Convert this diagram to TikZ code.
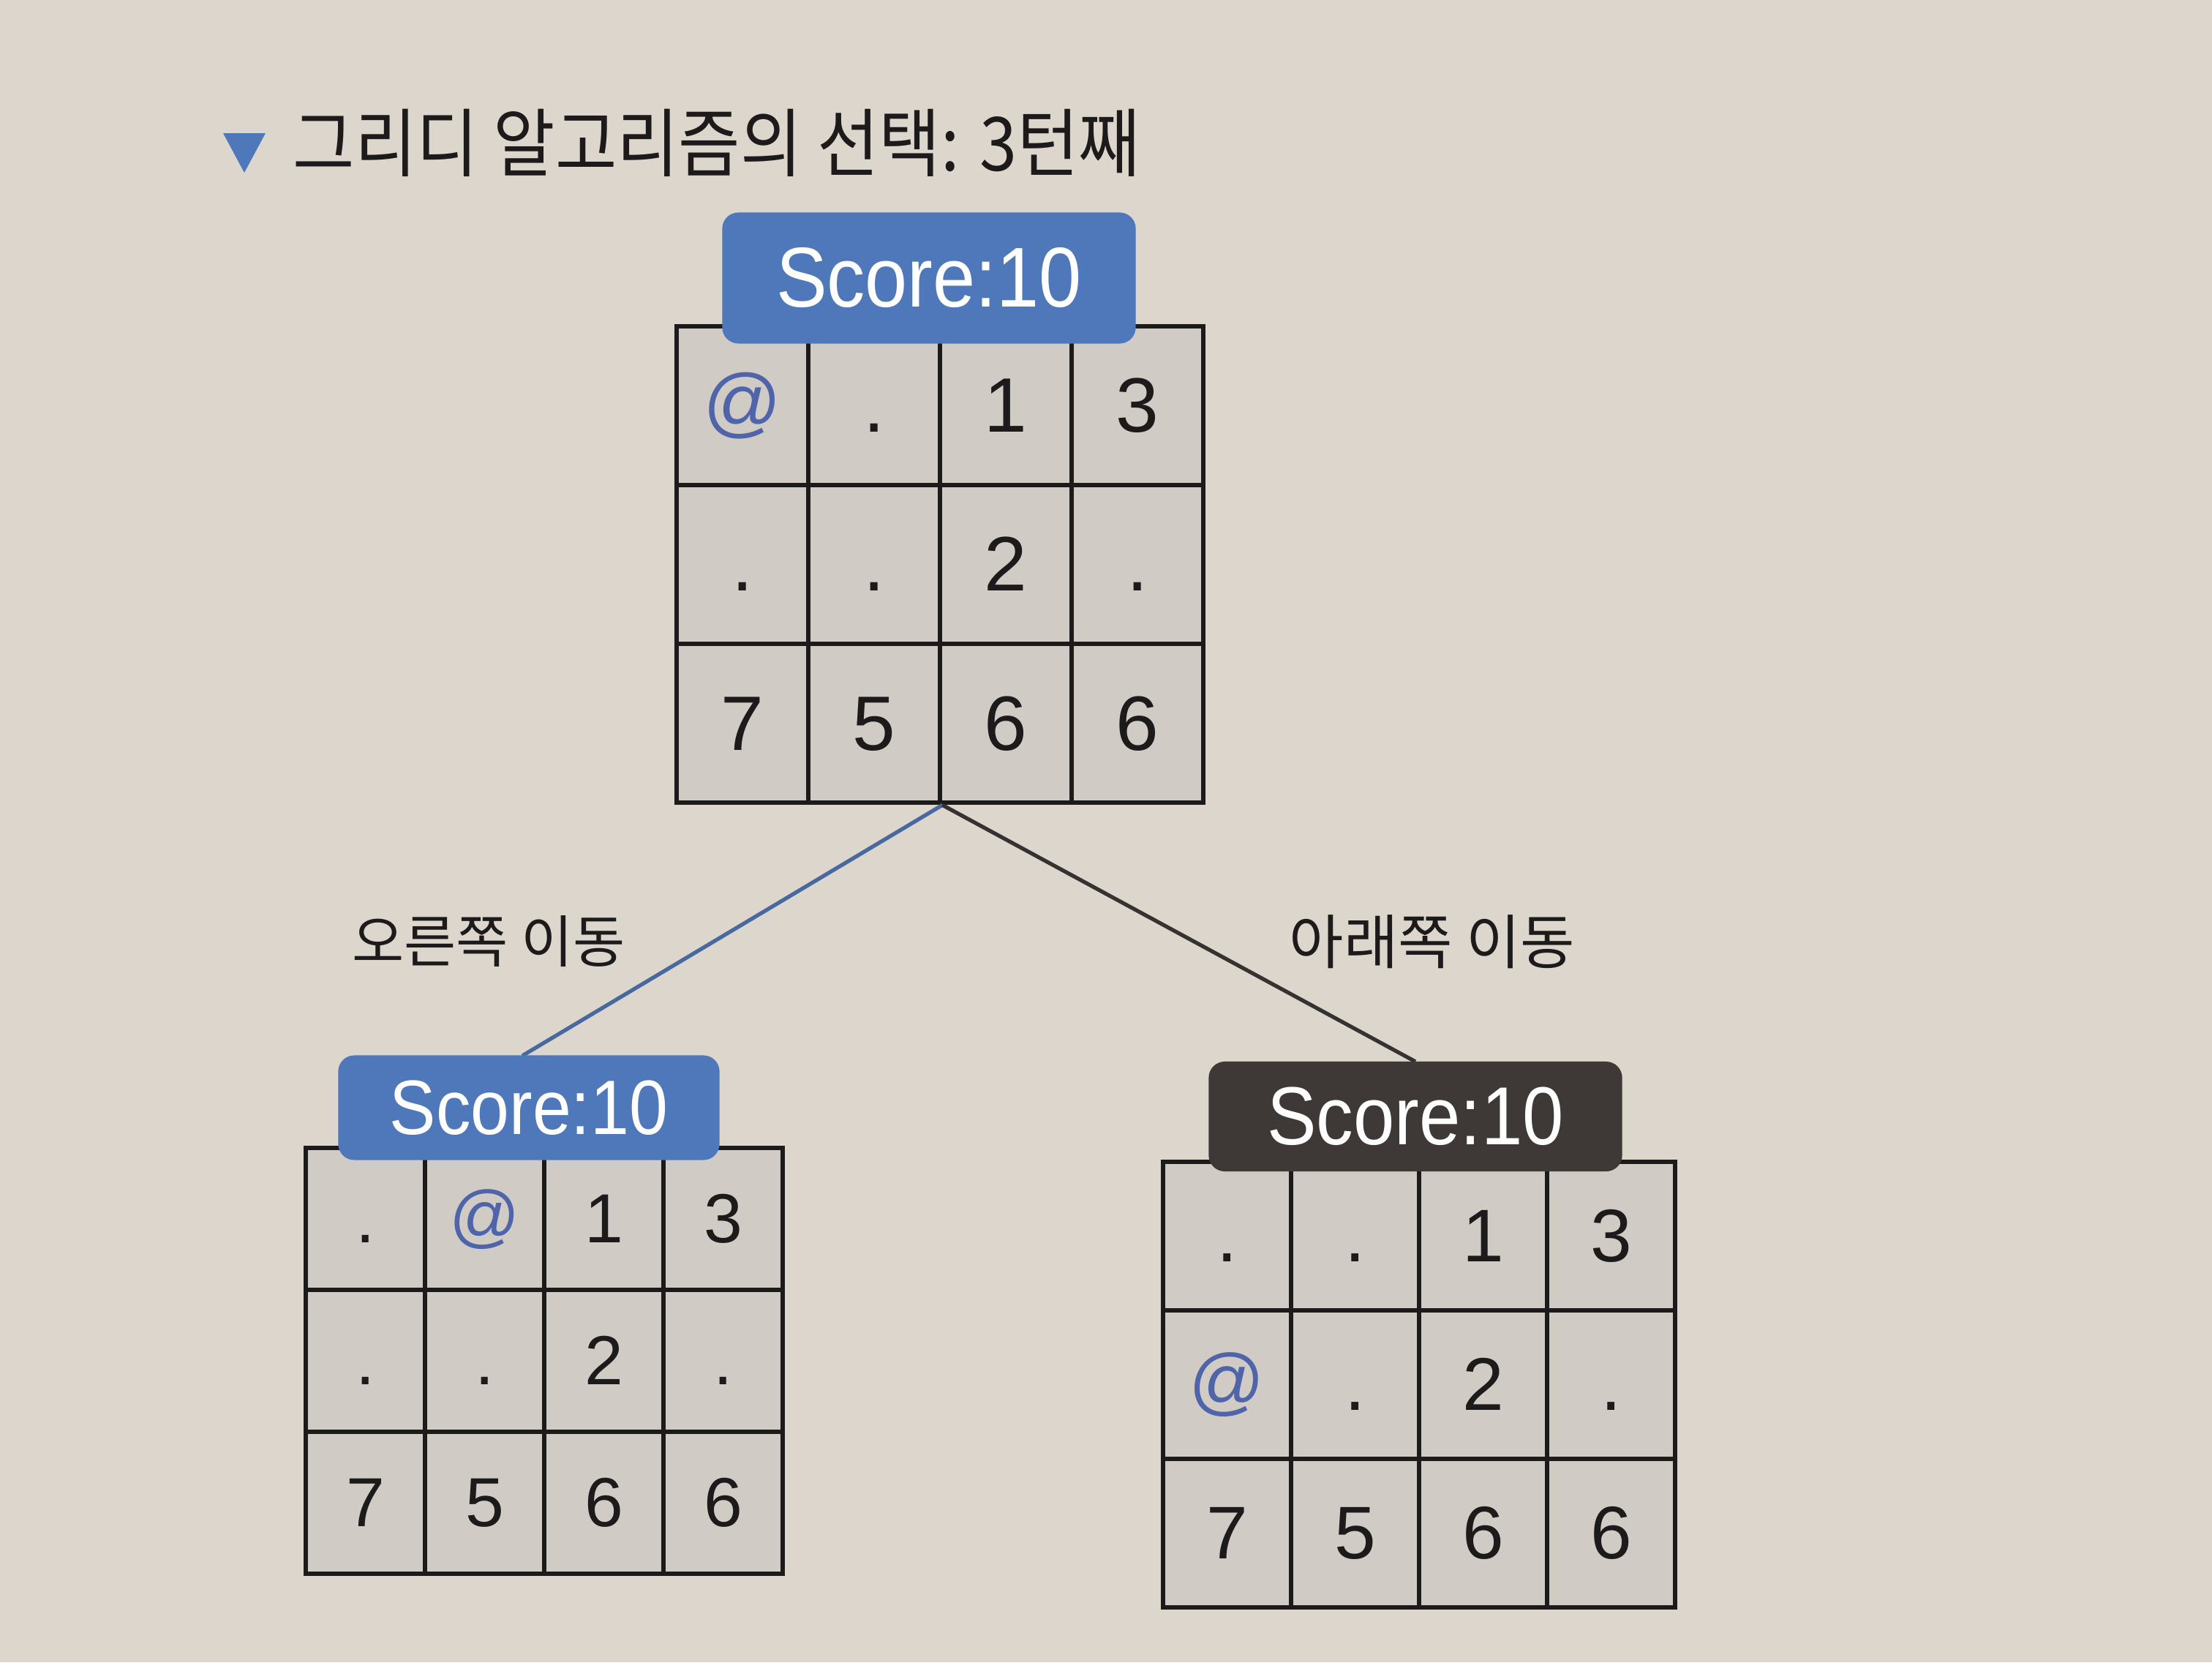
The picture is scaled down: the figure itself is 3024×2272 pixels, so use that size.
\documentclass[tikz,border=0pt]{standalone}
\usepackage{fontspec}
\setmainfont{Liberation Sans}
\newfontfamily\kr{Noto Sans CJK KR}
\definecolor{pagebg}{RGB}{220,214,204}
\definecolor{cellbg}{RGB}{208,204,197}
\definecolor{labblue}{RGB}{78,120,185}
\definecolor{labdark}{RGB}{62,57,55}
\definecolor{atblue}{RGB}{80,100,170}
\definecolor{inkc}{RGB}{28,26,26}
\definecolor{linedark}{RGB}{55,50,50}
\definecolor{lineblue}{RGB}{72,105,160}
\newcommand\atc{\textcolor{atblue}{@}}
\newcommand\sqz[2]{\scalebox{#1}[1]{#2}}
\newcommand\mkgrid[7]{%
  \foreach \r/\c/\t in {#7} {
    \node[cellbox, minimum width=#4*0.01cm, minimum height=#5*0.01cm,
          font=\fontsize{#6}{#6}\selectfont]
      (#1-\r-\c) at ({#2+(\c-1)*#4},{#3+(\r-1)*#5}) {\vphantom{0}\t};
  }%
}
\begin{document}
\begin{tikzpicture}[x=0.01cm,y=-0.01cm,
  cellbox/.style={draw=inkc, line width=1.8pt, fill=cellbg, anchor=north west,
    inner sep=0pt, text=inkc},
  scorelab/.style={rounded corners=0.22cm, inner sep=0pt, text=white},
  conn/.style={line width=1.5pt},
  movelab/.style={font=\kr\fontsize{22}{22}\selectfont, text=inkc}]
\useasboundingbox (0,0) rectangle (3024,2272);
\fill[pagebg] (0,0) rectangle (3024,2272);

% title
\fill[labblue] (305,182) -- (363,182) -- (334,236) -- cycle;
\node[anchor=west, font=\kr\fontsize{29}{29}\selectfont, text=inkc, inner sep=0pt]
  (title) at (400,195) {\sqz{0.9}{그리디 알고리즘의 선택: 3턴째}};

% grids
\mkgrid{t}{922}{443}{180}{217}{30}{1/1/\atc,1/2/.,1/3/1,1/4/3,2/1/.,2/2/.,2/3/2,2/4/.,3/1/7,3/2/5,3/3/6,3/4/6}
\mkgrid{l}{415}{1566}{163}{194}{27}{1/1/.,1/2/\atc,1/3/1,1/4/3,2/1/.,2/2/.,2/3/2,2/4/.,3/1/7,3/2/5,3/3/6,3/4/6}
\mkgrid{r}{1587}{1585}{175}{203}{29}{1/1/.,1/2/.,1/3/1,1/4/3,2/1/\atc,2/2/.,2/3/2,2/4/.,3/1/7,3/2/5,3/3/6,3/4/6}

% connectors
\coordinate (lend) at (714,1443);
\coordinate (rend) at (1935,1451);
\draw[conn, lineblue] (t-3-2.south east) -- (lend);
\draw[conn, linedark] (t-3-2.south east) -- (rend);

% score labels
\node[scorelab, fill=labblue, minimum width=5.65cm, minimum height=1.79cm,
  font=\fontsize{33}{33}\selectfont] (ts) at (1270,380) {\sqz{0.9}{Score:10}};
\node[scorelab, fill=labblue, minimum width=5.21cm, minimum height=1.43cm,
  font=\fontsize{30}{30}\selectfont] (ls) at (723,1514) {\sqz{0.9}{Score:10}};
\node[scorelab, fill=labdark, minimum width=5.65cm, minimum height=1.50cm,
  font=\fontsize{32}{32}\selectfont] (rs) at (1935,1526) {\sqz{0.9}{Score:10}};

% move labels
\node[movelab] (ml) at (668,1287) {오른쪽 이동};
\node[movelab, font=\kr\fontsize{23}{23}\selectfont] (mr) at (1958,1287) {아래쪽 이동};
\end{tikzpicture}
\end{document}
